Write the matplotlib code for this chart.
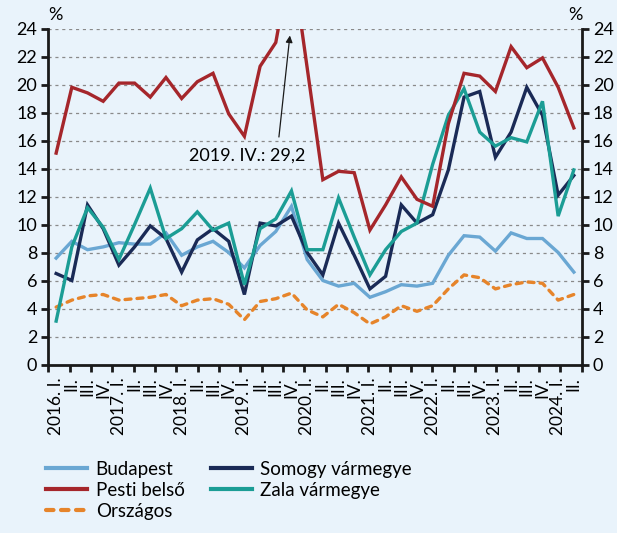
import matplotlib
matplotlib.use("Agg")
import matplotlib.pyplot as plt
import numpy as np

plt.rcParams['font.family'] = ['Lato', 'DejaVu Sans']

# Quarterly periods, 2016 Q1 - 2024 Q2
years = [2016, 2017, 2018, 2019, 2020, 2021, 2022, 2023, 2024]
quarters = ["I.", "II.", "III.", "IV."]
tick_labels = []
for y in years:
    for q in quarters:
        tick_labels.append(f"{y}. {q}" if q == "I." else q)
tick_labels = tick_labels[:34]

budapest = [7.6, 8.8, 8.2, 8.4, 8.7, 8.6, 8.6, 9.4, 7.8, 8.4, 8.8, 8.0,
            6.9, 8.5, 9.5, 11.3, 7.5, 6.0, 5.6, 5.8, 4.8, 5.2, 5.7, 5.6,
            5.8, 7.8, 9.2, 9.1, 8.1, 9.4, 9.0, 9.0, 8.0, 6.6]
pesti_belso = [15.1, 19.8, 19.4, 18.8, 20.1, 20.1, 19.1, 20.5, 19.0, 20.2, 20.8, 17.9,
               16.3, 21.3, 23.0, 29.2, 21.2, 13.2, 13.8, 13.7, 9.6, 11.4, 13.4, 11.8,
               11.3, 17.2, 20.8, 20.6, 19.5, 22.7, 21.2, 21.9, 19.8, 16.9]
somogy = [6.5, 6.0, 11.4, 9.7, 7.1, 8.4, 9.9, 9.0, 6.6, 8.9, 9.7, 8.8,
          5.0, 10.1, 9.9, 10.6, 8.0, 6.4, 10.1, 7.8, 5.4, 6.3, 11.4, 10.1,
          10.7, 13.9, 19.1, 19.5, 14.8, 16.6, 19.8, 17.8, 12.1, 13.5]
zala = [3.1, 8.4, 11.2, 9.8, 7.5, 10.0, 12.6, 9.0, 9.7, 10.9, 9.6, 10.1,
        5.7, 9.7, 10.4, 12.4, 8.2, 8.2, 11.9, 9.1, 6.4, 8.2, 9.5, 10.1,
        14.3, 17.8, 19.7, 16.6, 15.6, 16.2, 15.9, 18.8, 10.6, 13.9]
orszagos = [4.1, 4.6, 4.9, 5.0, 4.6, 4.7, 4.8, 5.0, 4.2, 4.6, 4.7, 4.3,
            3.2, 4.5, 4.7, 5.1, 3.9, 3.4, 4.3, 3.7, 2.9, 3.4, 4.2, 3.8,
            4.2, 5.4, 6.4, 6.2, 5.4, 5.7, 5.9, 5.8, 4.6, 5.0]

peak_label = "2019. IV.: 29,2"

BG = "#E9F3FB"
C_BUD = "#6AA7D3"
C_PEST = "#A5262B"
C_SOM = "#1A2A56"
C_ZALA = "#1B9D95"
C_ORSZ = "#E6842A"

W, H = 617, 533
fig = plt.figure(figsize=(W / 100, H / 100), dpi=100, facecolor=BG)
ax = fig.add_axes([48.3 / W, 1 - 364.5 / H, (581.7 - 48.3) / W, (364.5 - 28.5) / H])
ax.set_facecolor(BG)

x = np.arange(len(tick_labels))
lw = 2.4
l_bud, = ax.plot(x, budapest, color=C_BUD, lw=lw, label="Budapest", solid_joinstyle="miter")
l_orsz, = ax.plot(x, orszagos, color=C_ORSZ, lw=lw, ls=(0, (1.8, 1.8)), dash_capstyle="round",
                  label="Országos")
l_som, = ax.plot(x, somogy, color=C_SOM, lw=lw, label="Somogy vármegye", solid_joinstyle="miter")
l_zala, = ax.plot(x, zala, color=C_ZALA, lw=lw, label="Zala vármegye", solid_joinstyle="miter")
l_pest, = ax.plot(x, pesti_belso, color=C_PEST, lw=lw, label="Pesti belső", solid_joinstyle="miter")

ax.set_xlim(-0.5, len(x) - 0.5)
ax.set_ylim(0, 24)

# grid
for yv in range(2, 25, 2):
    ax.axhline(yv, color="#8a8a8a", lw=0.9, ls=(0, (2.5, 3)), zorder=0.5)

# spines
for s in ["left", "right", "bottom"]:
    ax.spines[s].set_linewidth(2.0)
    ax.spines[s].set_color("#1a1a1a")
ax.spines["top"].set_visible(False)

# y ticks on both sides
ax.set_yticks(range(0, 25, 2))
ax.tick_params(axis="y", which="major", left=True, right=True, labelleft=True, labelright=True,
               direction="out", length=5, width=2, color="#1a1a1a", labelsize=13, pad=3)

# x ticks: evenly spaced marks, category labels in between
n_int = 25
ax.set_xticks(np.linspace(-0.5, len(x) - 0.5, n_int + 1))
ax.set_xticklabels([])
ax.tick_params(axis="x", which="major", direction="out", length=5, width=2, color="#1a1a1a")
ax.set_xticks(x, minor=True)
ax.set_xticklabels(tick_labels, minor=True, rotation=90, va="top", ha="center", fontsize=12.5)
ax.tick_params(axis="x", which="minor", length=0, pad=9)

# percent signs
fig.text(55 / W, 1 - 15 / H, "%", ha="center", va="center", fontsize=13)
fig.text(575 / W, 1 - 15 / H, "%", ha="center", va="center", fontsize=13)

# label and arrow for the off-scale value
ax.text(12.2, 14.95, peak_label, ha="center", va="center", fontsize=13)
ax.annotate("", xy=(14.9, 23.5), xytext=(14.2, 16.25),
            arrowprops=dict(arrowstyle="-|>", color="#1a1a1a", lw=0.9,
                            shrinkA=0, shrinkB=0, mutation_scale=10))

# legend
leg = fig.legend(handles=[l_bud, l_pest, l_orsz, l_som, l_zala], ncol=2,
                 loc="upper left", bbox_to_anchor=(46 / W, 1 - 461 / H),
                 frameon=False, fontsize=13.5, handlelength=2.2, handletextpad=0.45,
                 labelspacing=0.2, columnspacing=1.4, borderpad=0, borderaxespad=0)
for h in leg.legend_handles:
    h.set_linewidth(3)

fig.savefig("out.png", dpi=100, facecolor=BG)
